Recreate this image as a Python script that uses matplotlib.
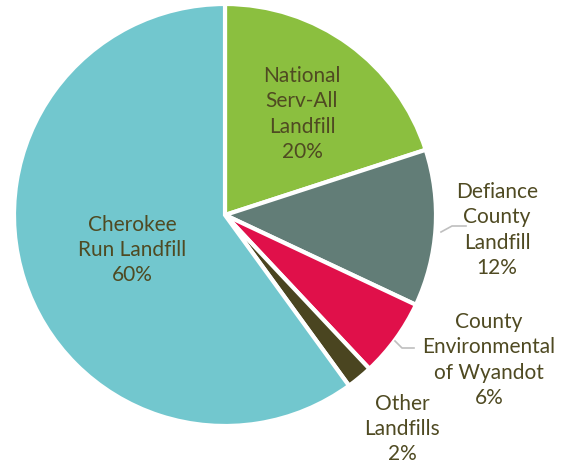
import matplotlib
matplotlib.use("Agg")
import matplotlib.pyplot as plt

categories = ["National\nServ-All\nLandfill", "Defiance\nCounty\nLandfill",
              "County\nEnvironmental\nof Wyandot", "Other\nLandfills", "Cherokee\nRun Landfill"]
values = [20, 12, 6, 2, 60]
colors = ["#8BBF3F", "#627D77", "#E0104A", "#4A4520", "#72C7CE"]
text_color = "#4F4A22"

W, H = 562, 465
fig = plt.figure(figsize=(W / 100, H / 100), dpi=100)
ax = fig.add_axes([0, 0, 1, 1])

cx, cy, r = 225, H - 215, 211
wedges, _ = ax.pie(values, colors=colors, startangle=90, counterclock=False,
                   center=(cx, cy), radius=r, frame=True,
                   wedgeprops=dict(edgecolor="white", linewidth=3))
ax.set_xlim(0, W)
ax.set_ylim(0, H)
ax.set_aspect("equal")
ax.axis("off")

font = dict(family=["Lato", "DejaVu Sans"], fontsize=15, color=text_color,
            ha="center", va="center", linespacing=1.34)

pos = [(302, 114), (497, 230), (489, 360), (402, 429), (132, 250)]
for lab, v, (x, y) in zip(categories, values, pos):
    ax.text(x, H - y, f"{lab}\n{v}%", **font)

# leader lines
ax.plot([441, 452, 466], [H - 232, H - 226, H - 226], color="#BFBFBF", lw=1.2)
ax.plot([395, 402, 414], [H - 341, H - 348, H - 348], color="#BFBFBF", lw=1.2)

fig.savefig("out.png", dpi=100, facecolor="white")
